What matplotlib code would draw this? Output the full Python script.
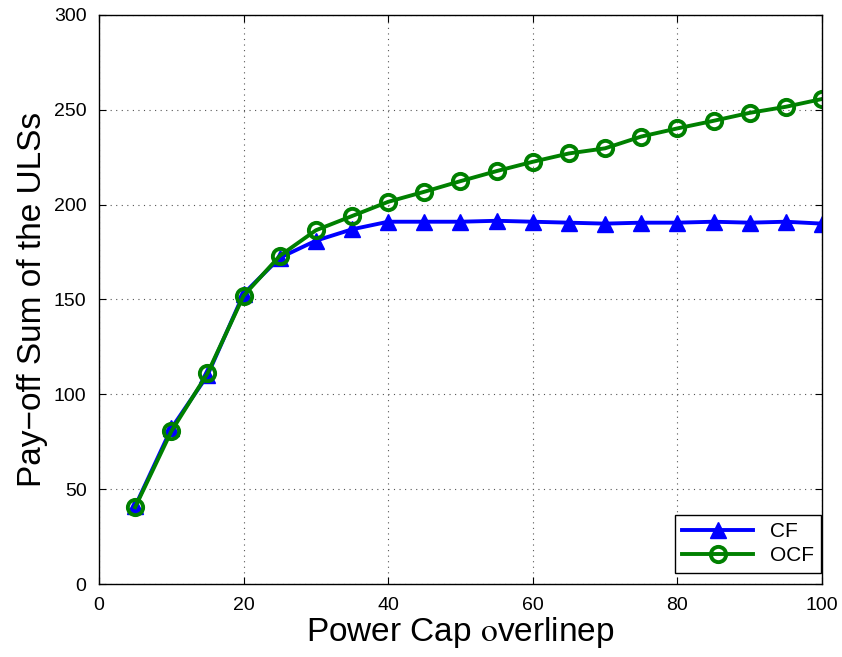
import numpy as np
import matplotlib.pyplot as plt

plt.rcParams['font.family'] = ['Liberation Sans', 'DejaVu Sans']
plt.rcParams['mathtext.fontset'] = 'stix'

power_cap = [5, 10, 15, 20, 25, 30, 35, 40, 45, 50, 55, 60, 65, 70, 75, 80, 85, 90, 95, 100]
cf = [41, 82, 110, 153, 172, 181, 187, 191, 191, 191, 191.5, 191, 190.5, 190,
      190.5, 190.5, 191, 190.5, 191, 190]
ocf = [40.5, 80.5, 111, 152, 173, 186.5, 194, 201.5, 206.8, 212.4, 217.7, 222.6,
       227, 229.7, 235.9, 240.2, 244.2, 248.4, 251.6, 255.7]

fig = plt.figure(figsize=(8.42, 6.57), dpi=100)
ax = fig.add_axes([0.1176, 0.1111, 0.8586, 0.8661])

ax.plot(power_cap, cf, color='#0000ff', lw=2.8, marker='^', markersize=12,
        markerfacecolor='#0000ff', markeredgecolor='#0000ff', label='CF')
ax.plot(power_cap, ocf, color='#008000', lw=2.8, marker='o', markersize=11,
        markerfacecolor='none', markeredgecolor='#008000', markeredgewidth=2.8,
        label='OCF')

ax.set_xlim(0, 100)
ax.set_ylim(0, 300)
ax.set_xticks(np.arange(0, 101, 20))
ax.set_yticks(np.arange(0, 301, 50))
ax.tick_params(direction='in', labelsize=14, length=5, pad=9, top=True, right=True)
ax.grid(True, linestyle=(0, (1, 4)), color='#555555', lw=0.8)
for s in ax.spines.values():
    s.set_linewidth(1.0)

ax.set_xlabel(r'Power Cap $\mathrm{o}$verlinep', fontsize=24, labelpad=1)
ax.set_ylabel('Pay\u2212off Sum of the ULSs', fontsize=24, labelpad=4)

leg = ax.legend(loc='lower right', bbox_to_anchor=(0.999, 0.02), fontsize=15,
                fancybox=False, framealpha=1, edgecolor='black',
                handlelength=3.4, borderaxespad=0.0, borderpad=0.35,
                labelspacing=0.25)
leg.get_frame().set_linewidth(1.0)

fig.savefig('out.png', dpi=100)
